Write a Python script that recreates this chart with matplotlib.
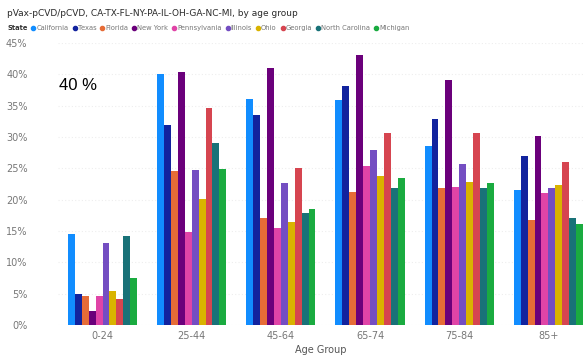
import matplotlib
matplotlib.use("Agg")
import matplotlib.pyplot as plt
import numpy as np
from matplotlib.lines import Line2D

age_groups = ["0-24", "25-44", "45-64", "65-74", "75-84", "85+"]
states = ["California", "Texas", "Florida", "New York", "Pennsylvania",
          "Illinois", "Ohio", "Georgia", "North Carolina", "Michigan"]
colors = ["#118DFF", "#12239E", "#E66C37", "#6B007B", "#E044A7",
          "#744EC2", "#D9B300", "#D64550", "#197278", "#1AAB40"]

california = [14.6, 40.0, 36.0, 35.9, 28.5, 21.5]
texas = [4.9, 31.9, 33.5, 38.2, 32.8, 27.0]
florida = [4.7, 24.5, 17.0, 21.3, 21.8, 16.7]
new_york = [2.2, 40.4, 41.0, 43.1, 39.1, 30.2]
pennsylvania = [4.7, 14.9, 15.4, 25.4, 22.1, 21.1]
illinois = [13.1, 24.8, 22.7, 27.9, 25.7, 21.8]
ohio = [5.5, 20.1, 16.5, 23.8, 22.8, 22.3]
georgia = [4.1, 34.6, 25.1, 30.6, 30.7, 26.0]
north_carolina = [14.2, 29.1, 17.8, 21.8, 21.8, 17.0]
michigan = [7.5, 24.9, 18.5, 23.4, 22.7, 16.1]

series = [california, texas, florida, new_york, pennsylvania,
          illinois, ohio, georgia, north_carolina, michigan]

W, H = 584, 356
fig = plt.figure(figsize=(W / 100, H / 100), dpi=100)
fig.patch.set_facecolor("white")

left_px, right_px, top_px, bottom_px = 58, 584, 43, 325
ax = fig.add_axes([left_px / W, (H - bottom_px) / H,
                   (right_px - left_px) / W, (bottom_px - top_px) / H])

n = len(states)
group_w = 0.775
bw = group_w / n
x = np.arange(len(age_groups))
for i, (vals, c) in enumerate(zip(series, colors)):
    ax.bar(x - group_w / 2 + bw * (i + 0.5), vals, width=bw, color=c,
           linewidth=0, zorder=3)

ax.set_xlim(-0.5, 5.4)
ax.set_ylim(0, 45)
ax.set_yticks(np.arange(0, 46, 5))
ax.set_yticklabels([f"{v}%" for v in range(0, 46, 5)])
ax.set_xticks(x)
ax.set_xticklabels(age_groups)
ax.tick_params(axis="both", length=0, colors="#777777", labelsize=7)
ax.tick_params(axis="y", pad=22)
ax.tick_params(axis="x", pad=4)
ax.yaxis.grid(True, color="#eeeeee", linestyle=(0, (1, 2)), linewidth=0.8, zorder=0)
for s in ax.spines.values():
    s.set_visible(False)
ax.set_xlabel("Age Group", fontsize=7, color="#555555", labelpad=3)

fig.text(59 / W, 1 - 86 / H, "40 %", fontsize=12, color="black",
         family="Liberation Sans", va="center", ha="left")

fig.text(7 / W, 1 - 13 / H, "pVax-pCVD/pCVD, CA-TX-FL-NY-PA-IL-OH-GA-NC-MI, by age group",
         fontsize=6.5, color="#2a2a2a", va="center", ha="left")

# legend row
renderer = fig.canvas.get_renderer()
y_leg = 1 - 28 / H
t = fig.text(7 / W, y_leg, "State", fontsize=4.9, color="#333333",
             fontweight="bold", va="center", ha="left")
xpos = t.get_window_extent(renderer).x1 + 4
for name, c in zip(states, colors):
    fig.add_artist(Line2D([(xpos + 2) / W], [y_leg], marker="o", markersize=3.0,
                          color=c, transform=fig.transFigure, linestyle="none"))
    tt = fig.text((xpos + 5) / W, y_leg, name, fontsize=4.9, color="#777777",
                  va="center", ha="left")
    xpos = tt.get_window_extent(renderer).x1 + 4

fig.savefig("out.png", dpi=100, facecolor="white")
